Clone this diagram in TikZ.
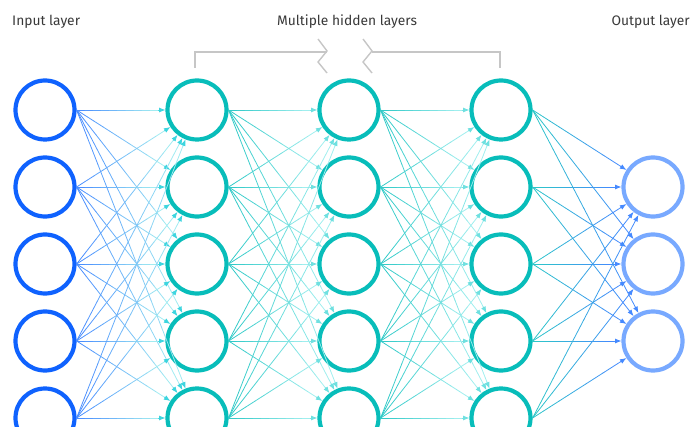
\documentclass[tikz,border=0pt]{standalone}
\usepackage{fontspec}
\setmainfont{Fira Sans}
\usetikzlibrary{calc,arrows.meta}
\definecolor{inblue}{HTML}{0F62FE}
\definecolor{hidteal}{HTML}{08BDBA}
\definecolor{lnteal}{HTML}{2CC8C6}
\definecolor{outblue}{HTML}{78A9FF}
\definecolor{lnblue}{HTML}{4589FF}
\definecolor{lncyan}{HTML}{A6F0F0}
\definecolor{tipcyan}{HTML}{3DD5DF}
\definecolor{tiplight}{HTML}{6FE0E0}
\definecolor{txtgray}{HTML}{393939}
\definecolor{brgray}{HTML}{C6C6C6}
\newcommand\gline[5]{%
  \path (#1.east) coordinate (gs);
  \path ($(#2)!31.5pt!(gs)$) coordinate (ge);
  \path ($(ge)!7pt!(gs)$) coordinate (gm);
  \foreach \k in {1,...,10}{%
    \pgfmathsetmacro\ta{(\k-1)/10}\pgfmathsetmacro\tb{\k/10}%
    \pgfmathtruncatemacro\pc{100*(\k-0.5)/10}%
    \draw[conn, color=#4!\pc!#3] ($(gs)!\ta!(gm)$) -- ($(gs)!\tb!(gm)$);}
  \draw[conn, color=#5, -{Latex[length=6.5pt,width=5pt]}] (gm) -- (ge);
}
\begin{document}
\begin{tikzpicture}[x=1pt,y=-1pt,
  neuron/.style={circle, line width=4.2pt, minimum size=59pt, inner sep=0pt},
  conn/.style={line width=0.8pt, line cap=round},
  lbl/.style={font=\fontsize{13.8}{16}\selectfont, text=txtgray, inner sep=0pt},
  br/.style={draw=brgray, line width=1.4pt}]
\useasboundingbox (0,0) rectangle (692,427);
\clip (0,0) rectangle (692,427);
\foreach \j in {1,...,5}{
  \node[neuron, draw=inblue] (i\j) at (45,{33+77*\j}) {};
  \node[neuron, draw=hidteal] (a\j) at (197,{33+77*\j}) {};
  \node[neuron, draw=hidteal] (b\j) at (349,{33+77*\j}) {};
  \node[neuron, draw=hidteal] (c\j) at (501,{33+77*\j}) {};
}
\foreach \j in {1,2,3}{
  \node[neuron, draw=outblue] (o\j) at (653,{110+77*\j}) {};
}
\foreach \s in {1,...,5}{
  \foreach \t in {1,...,5}{
    \gline{i\s}{a\t}{lnblue}{lncyan}{tipcyan}
    \gline{a\s}{b\t}{lnteal}{lncyan}{tiplight}
    \gline{b\s}{c\t}{lnteal}{lncyan}{tiplight}
  }
  \foreach \t in {1,2,3}{
    \gline{c\s}{o\t}{lnteal}{lnblue}{lnblue}
  }
}
\node[lbl, anchor=base west] (tin) at (12,26) {Input layer};
\node[lbl, anchor=base] (thid) at (347,26) {Multiple hidden layers};
\node[lbl, anchor=base east] (tout) at (690,26) {Output layer};
\draw[br] (195,68) -- (195,52) -- (327,52);
\draw[br] (318,39) -- (327,51) -- (318,62) -- (327,73);
\draw[br] (363,39) -- (372,51) -- (363,62) -- (372,73);
\draw[br] (372,52) -- (500,52) -- (500,68);
\end{tikzpicture}
\end{document}
